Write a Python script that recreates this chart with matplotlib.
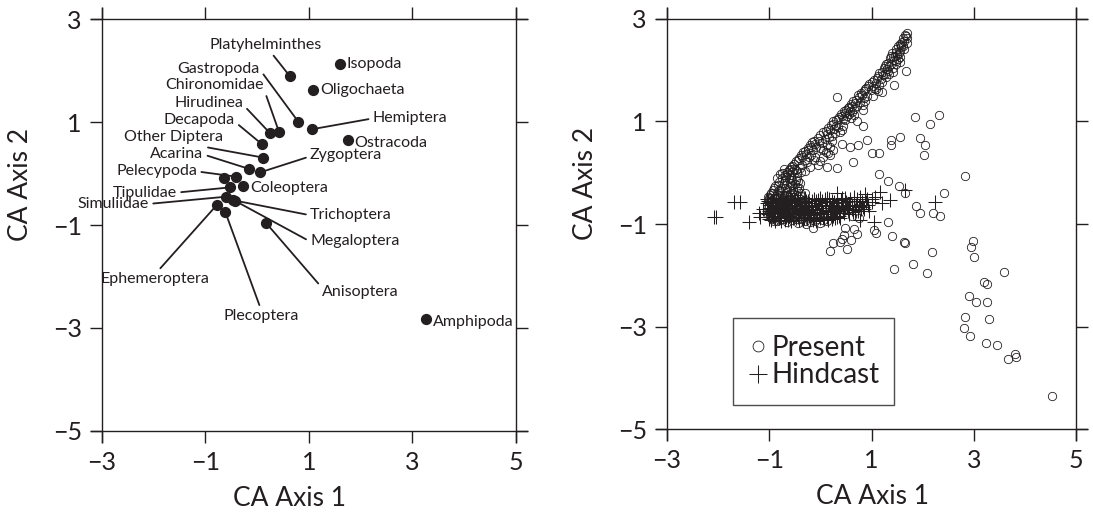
import numpy as np
import matplotlib
matplotlib.use('Agg')
import matplotlib.pyplot as plt

plt.rcParams['font.family'] = ['Lato', 'DejaVu Sans']
INK = '#231f20'

# ---- left panel: species scores (CA axis 1, CA axis 2) ----
taxa = ['Platyhelminthes', 'Isopoda', 'Oligochaeta', 'Gastropoda', 'Chironomidae',
        'Hirudinea', 'Decapoda', 'Other Diptera', 'Acarina', 'Zygoptera',
        'Pelecypoda', '', 'Coleoptera', 'Tipulidae', 'Simuliidae', 'Trichoptera',
        'Megaloptera', 'Ephemeroptera', 'Plecoptera', 'Anisoptera', 'Amphipoda',
        'Hemiptera', 'Ostracoda']
taxa_x = [0.63, 1.59, 1.08, 0.79, 0.42, 0.25, 0.09, 0.11, -0.16, 0.05,
          -0.41, -0.64, -0.27, -0.53, -0.60, -0.46, -0.43, -0.78, -0.62, 0.17, 3.26,
          1.06, 1.75]
taxa_y = [1.89, 2.13, 1.62, 1.01, 0.81, 0.78, 0.57, 0.31, 0.09, 0.02,
          -0.06, -0.09, -0.24, -0.27, -0.45, -0.52, -0.53, -0.61, -0.74, -0.96, -2.83,
          0.86, 0.65]
# label anchor (data units), alignment and where the leader leaves the text
lab_x = [0.17, 1.72, 1.21, 0.05, 0.12, -0.27, -0.43, -0.66, -1.04, 1.02,
         -1.16, 0, -0.13, -1.55, -2.09, 1.02, 1.02, -1.98, 0.07, 1.25, 3.40,
         2.23, 1.88]
lab_y = [2.50, 2.13, 1.62, 2.02, 1.72, 1.36, 1.03, 0.70, 0.37, 0.36,
         0.04, 0, -0.28, -0.37, -0.59, -0.81, -1.32, -2.05, -2.77, -2.30, -2.88,
         1.07, 0.59]
lab_ha = ['center', 'left', 'left', 'right', 'right', 'right', 'right', 'right',
          'right', 'left', 'right', '', 'left', 'right', 'right', 'left', 'left',
          'center', 'center', 'left', 'left', 'left', 'left']
lab_rel = [(0.54, 0), None, None, (1, 0.5), (1, 0.3), (1, 0.4), (1, 0.4), (0.68, 0),
           (1, 0.5), (0, 0.4), (1, 0.5), None, None, (1, 0.5), (1, 0.5), (0, 0.5),
           (0, 0.5), (0.52, 1), (0.5, 1), (0, 0.8), None, (0, 0.5), None]

# ---- right panel: site scores ----
present = [
    (1.69, 2.72), (1.69, 2.62), (1.69, 2.54), (1.55, 2.38), (1.55, 2.17), (1.68, 1.99),
    (1.43, 1.71), (1.20, 1.58), (1.02, 1.50), (0.32, 1.48), (0.83, 1.22), (1.84, 1.09),
    (2.31, 1.13), (2.15, 0.96), (0.71, 1.00), (0.84, 0.91), (1.56, 0.70), (1.38, 0.64),
    (1.38, 0.55), (1.94, 0.67), (2.05, 0.55), (2.03, 0.35), (0.91, 0.64), (0.74, 0.54),
    (0.42, 0.57), (0.58, 0.51), (0.19, 0.35), (1.01, 0.38), (1.14, 0.39), (0.63, 0.20),
    (0.12, 0.12), (0.32, 0.09), (1.14, -0.03), (1.33, -0.17), (1.53, -0.26), (1.66, -0.40),
    (2.41, -0.40), (1.87, -0.65), (1.94, -0.78), (2.20, -0.78), (2.33, -0.84), (1.33, -0.97),
    (1.04, -1.12), (1.09, -1.17), (1.40, -1.23), (1.63, -1.35), (1.66, -1.38), (-0.14, -1.08),
    (0.48, -1.08), (0.65, -1.10), (0.46, -1.21), (0.59, -1.31), (0.51, -1.49), (0.18, -1.52),
    (0.39, -1.35), (0.24, -1.38), (0.42, -1.29), (0.72, -1.20), (0.62, -0.84), (0.75, -0.89),
    (2.18, -1.54), (1.81, -1.78), (1.44, -1.88), (2.08, -1.95), (2.83, -0.06), (2.98, -1.33),
    (2.95, -1.44), (3.00, -1.64), (3.60, -1.93), (3.20, -2.13), (3.26, -2.18), (2.90, -2.40),
    (3.04, -2.53), (3.26, -2.53), (2.83, -2.81), (3.29, -2.86), (2.80, -3.02), (2.92, -3.18),
    (3.24, -3.33), (3.45, -3.36), (3.67, -3.63), (3.81, -3.54), (3.82, -3.60), (4.53, -4.35),
    # diagonal band
    (1.62, 2.62), (1.66, 2.68), (1.60, 2.55), (1.52, 2.48), (1.58, 2.45), (1.47, 2.41),
    (1.55, 2.52), (1.63, 2.42), (1.40, 2.33), (1.45, 2.28), (1.50, 2.30), (1.36, 2.24),
    (1.44, 2.20), (1.52, 2.22), (1.28, 2.12), (1.35, 2.08), (1.30, 2.02), (1.41, 2.05),
    (1.24, 2.05), (1.47, 2.12), (1.15, 1.94), (1.22, 1.90), (1.10, 1.85), (1.18, 1.82),
    (1.28, 1.86), (1.35, 1.92), (1.05, 1.80), (0.95, 1.74), (1.02, 1.70), (0.90, 1.66),
    (1.08, 1.64), (0.98, 1.62), (1.15, 1.72), (0.86, 1.60), (0.80, 1.55), (0.76, 1.48),
    (0.85, 1.45), (0.70, 1.42), (0.92, 1.50), (0.64, 1.40), (0.60, 1.34), (0.55, 1.28),
    (0.66, 1.25), (0.50, 1.22), (0.72, 1.30), (0.46, 1.20), (0.58, 1.21), (0.40, 1.14),
    (0.36, 1.08), (0.45, 1.05), (0.30, 1.02), (0.52, 1.10), (0.25, 1.00), (0.60, 1.06),
    (0.20, 0.94), (0.15, 0.88), (0.26, 0.86), (0.10, 0.82), (0.34, 0.90), (0.05, 0.80),
    (0.42, 0.84), (0.00, 0.74), (-0.05, 0.68), (0.08, 0.66), (-0.12, 0.62), (0.16, 0.70),
    (0.22, 0.62), (-0.16, 0.60), (-0.20, 0.54), (-0.25, 0.48), (-0.15, 0.45), (-0.30, 0.42),
    (-0.08, 0.50), (0.05, 0.44), (-0.34, 0.40), (-0.38, 0.34), (-0.42, 0.28), (-0.30, 0.25),
    (-0.48, 0.22), (-0.22, 0.30), (-0.12, 0.24), (-0.55, 0.14), (-0.60, 0.08), (-0.48, 0.05),
    (-0.66, 0.02), (-0.40, 0.10), (-0.30, 0.04), (0.05, 0.30), (0.15, 0.38), (-0.05, 0.15),
    (0.25, 0.45),
    (1.64, 2.58), (1.57, 2.50), (1.68, 2.66), (1.61, 2.47), (1.48, 2.36), (1.42, 2.25),
    (1.54, 2.33), (1.38, 2.28), (1.47, 2.18), (1.56, 2.26), (1.32, 2.15), (1.26, 2.08),
    (1.38, 2.12), (1.33, 1.98), (1.20, 1.97), (1.42, 1.96), (1.27, 1.93), (1.12, 1.88),
    (1.00, 1.78), (1.08, 1.76), (1.20, 1.78), (0.93, 1.70), (1.05, 1.66), (1.12, 1.60),
    (0.88, 1.63), (0.82, 1.52), (0.74, 1.51), (0.88, 1.40), (0.68, 1.36), (0.78, 1.38),
    (0.62, 1.30), (0.84, 1.33), (0.53, 1.26), (0.48, 1.16), (0.62, 1.18), (0.42, 1.10),
    (0.56, 1.14), (0.34, 1.04), (0.48, 1.02), (0.66, 1.12), (0.24, 0.96), (0.30, 0.92),
    (0.18, 0.84), (0.38, 0.80), (0.12, 0.76), (0.28, 0.78), (0.22, 0.72), (0.44, 0.92),
    (-0.02, 0.62), (0.04, 0.58), (-0.10, 0.56), (0.12, 0.54), (-0.18, 0.50), (0.00, 0.48),
    (0.18, 0.50), (-0.24, 0.44), (0.10, 0.40), (-0.28, 0.36), (-0.36, 0.30), (-0.18, 0.34),
    (-0.44, 0.24), (-0.26, 0.20), (-0.10, 0.30), (-0.52, 0.18), (-0.36, 0.16), (-0.20, 0.12),
    (-0.58, 0.12), (0.00, 0.22),
    # dense blob
    (-0.70, -0.05), (-0.76, -0.10), (-0.62, -0.12), (-0.82, -0.18), (-0.55, -0.15),
    (-0.45, -0.08), (-0.88, -0.26), (-0.72, -0.24), (-0.60, -0.28), (-0.50, -0.22),
    (-0.40, -0.20), (-0.92, -0.34), (-0.80, -0.36), (-0.68, -0.38), (-0.56, -0.40),
    (-0.44, -0.36), (-0.98, -0.44), (-0.86, -0.46), (-0.74, -0.50), (-0.62, -0.48),
    (-0.50, -0.52), (-0.38, -0.46), (-1.02, -0.56), (-0.90, -0.58), (-0.78, -0.62),
    (-0.66, -0.60), (-0.54, -0.64), (-0.42, -0.58), (-0.32, -0.62), (-1.04, -0.68),
    (-0.94, -0.72), (-0.82, -0.70), (-0.70, -0.76), (-0.58, -0.74), (-0.46, -0.78),
    (-0.34, -0.72), (-0.98, -0.82), (-0.86, -0.86), (-0.74, -0.84), (-0.62, -0.88),
    (-0.50, -0.86), (-0.38, -0.90), (-0.90, -0.94), (-0.66, -0.96), (-0.44, -0.98),
    (-0.20, -0.88), (-0.10, -0.95), (0.05, -0.92), (-0.28, -1.00),
    (-0.75, 0.00), (-0.65, -0.02), (-0.55, 0.02), (-0.85, -0.10), (-0.70, -0.15),
    (-0.58, -0.05), (-0.48, -0.14), (-0.90, -0.30), (-0.78, -0.30), (-0.66, -0.32),
    (-0.54, -0.32), (-0.46, -0.28), (-0.96, -0.40), (-0.84, -0.42), (-0.72, -0.44),
    (-0.60, -0.42), (-0.48, -0.44), (-0.40, -0.40), (-1.00, -0.50), (-0.88, -0.52),
    (-0.76, -0.56), (-0.64, -0.54), (-0.52, -0.58), (-0.40, -0.52), (-1.04, -0.62),
    (-0.92, -0.65), (-0.80, -0.66), (-0.68, -0.68), (-0.56, -0.70), (-0.44, -0.68),
    (-1.00, -0.76), (-0.88, -0.78), (-0.76, -0.80), (-0.64, -0.80), (-0.52, -0.82),
    (-0.40, -0.84), (-0.94, -0.88), (-0.80, -0.92), (-0.56, -0.92), (-0.30, -0.94),
    (-0.20, -0.96), (0.00, -0.98), (0.12, -0.94),
    (-1.03, -0.48), (-0.99, -0.58), (-1.01, -0.66), (-0.97, -0.74), (-1.02, -0.80),
    (-0.95, -0.90), (-0.93, -0.40), (-0.91, -0.50), (-0.89, -0.62), (-0.87, -0.72),
    (-0.85, -0.82), (-0.84, -0.94), (-0.83, -0.24), (-0.81, -0.34), (-0.79, -0.44),
    (-0.77, -0.54), (-0.75, -0.66), (-0.73, -0.90), (-0.71, -0.20), (-0.69, -0.30),
    (-0.67, -0.44), (-0.65, -0.56), (-0.63, -0.66), (-0.61, -0.76), (-0.59, -0.84),
    (-0.57, -0.10), (-0.55, -0.24), (-0.53, -0.36), (-0.51, -0.48), (-0.49, -0.62),
    (-0.47, -0.72), (-0.45, -0.90), (-0.43, -0.16), (-0.41, -0.30), (-0.39, -0.62),
    (-0.37, -0.76), (-0.35, -0.55), (-0.33, -0.84), (-0.31, -0.40), (-0.62, 0.05),
    (-0.52, 0.08), (-0.45, 0.00), (-0.38, 0.02), (-0.68, -0.08), (-0.60, -0.20),
    (-0.80, -0.02), (-0.72, 0.08), (-0.26, -0.80), (-0.16, -0.84), (-0.06, -0.90),
]
hindcast = [
    (-1.02, -0.55), (-0.98, -0.62), (-1.05, -0.70), (-0.95, -0.78), (-1.00, -0.86),
    (-0.92, -0.50), (-0.88, -0.66), (-0.85, -0.74), (-0.82, -0.88), (-0.78, -0.56),
    (-0.75, -0.64), (-0.72, -0.80), (-0.70, -0.92), (-0.68, -0.52), (-0.65, -0.70),
    (-0.62, -0.84), (-0.60, -0.60), (-0.58, -0.94), (-0.55, -0.76), (-0.52, -0.54),
    (-0.50, -0.68), (-0.48, -0.88), (-0.45, -0.62), (-0.42, -0.80), (-0.40, -0.50),
    (-0.38, -0.72), (-0.35, -0.92), (-0.32, -0.58), (-0.30, -0.82), (-0.28, -0.66),
    (-0.25, -0.55), (-0.22, -0.74), (-0.20, -0.90), (-0.18, -0.62), (-0.15, -0.80),
    (-0.12, -0.52), (-0.10, -0.70), (-0.08, -0.94), (-0.05, -0.60), (-0.02, -0.78),
    (0.00, -0.50), (0.03, -0.68), (0.05, -0.86), (0.08, -0.58), (0.10, -0.74),
    (0.13, -0.50), (0.15, -0.92), (0.18, -0.64), (0.20, -0.80), (0.23, -0.56),
    (0.26, -0.70), (0.28, -0.88), (0.32, -0.52), (0.35, -0.66), (0.38, -0.78),
    (0.42, -0.58), (0.45, -0.72), (0.48, -0.50), (0.52, -0.64), (0.55, -0.80),
    (0.58, -0.56), (0.62, -0.70), (0.65, -0.48), (0.70, -0.62), (0.74, -0.74),
    (0.78, -0.55), (0.84, -0.66), (0.90, -0.58),
    (-1.04, -0.60), (-1.00, -0.74), (-0.97, -0.92), (-0.93, -0.56), (-0.90, -0.84),
    (-0.87, -0.60), (-0.83, -0.52), (-0.80, -0.78), (-0.77, -0.94), (-0.73, -0.70),
    (-0.70, -0.58), (-0.67, -0.86), (-0.63, -0.62), (-0.60, -0.78), (-0.57, -0.52),
    (-0.54, -0.88), (-0.51, -0.62), (-0.47, -0.76), (-0.44, -0.52), (-0.41, -0.92),
    (-0.37, -0.62), (-0.34, -0.78), (-0.31, -0.50), (-0.27, -0.88), (-0.24, -0.64),
    (-0.21, -0.82), (-0.17, -0.56), (-0.14, -0.92), (-0.11, -0.62), (-0.07, -0.80),
    (-0.04, -0.54), (-0.01, -0.88), (0.02, -0.62), (0.06, -0.76), (0.09, -0.52),
    (0.12, -0.86), (0.16, -0.58), (0.19, -0.72), (0.22, -0.90), (0.25, -0.62),
    (0.29, -0.76), (0.33, -0.60), (0.36, -0.74), (0.40, -0.54), (0.44, -0.64),
    (0.47, -0.78), (0.50, -0.58), (0.54, -0.70), (0.57, -0.52), (0.61, -0.64),
    (0.66, -0.56), (0.68, -0.72), (0.72, -0.52), (0.76, -0.64), (0.82, -0.58),
    (0.86, -0.70), (0.94, -0.62), (1.00, -0.58),
    (-1.05, -0.52), (-1.03, -0.80), (-1.01, -0.90), (-0.99, -0.68), (-0.96, -0.58),
    (-0.94, -0.70), (-0.91, -0.76), (-0.89, -0.94), (-0.86, -0.54), (-0.84, -0.68),
    (-0.81, -0.62), (-0.79, -0.86), (-0.76, -0.72), (-0.74, -0.50), (-0.71, -0.64),
    (-0.69, -0.78), (-0.66, -0.56), (-0.64, -0.92), (-0.61, -0.70), (-0.59, -0.54),
    (-0.56, -0.64), (-0.53, -0.80), (-0.49, -0.56), (-0.46, -0.70), (-0.43, -0.86),
    (-0.39, -0.58), (-0.36, -0.68), (-0.33, -0.88), (-0.29, -0.56), (-0.26, -0.74),
    (-0.23, -0.60), (-0.19, -0.76), (-0.16, -0.66), (-0.13, -0.86), (-0.09, -0.56),
    (-0.06, -0.72), (-0.03, -0.64), (0.01, -0.80), (0.04, -0.56), (0.07, -0.90),
    (0.11, -0.64), (0.14, -0.76), (0.17, -0.52), (0.21, -0.68), (0.24, -0.84),
    (0.27, -0.58), (0.31, -0.70), (0.37, -0.84), (0.43, -0.50), (0.49, -0.68),
    (0.56, -0.62), (0.63, -0.76), (0.80, -0.70), (0.92, -0.52),
    (-1.70, -0.58), (-1.57, -0.58), (-2.09, -0.86), (-2.04, -0.86), (-1.39, -0.97),
    (-1.18, -0.86), (-1.21, -0.78), (-1.12, -0.70), (1.17, -0.37), (1.36, -0.53),
    (1.01, -0.52), (1.07, -0.47), (0.78, -0.47), (0.88, -0.41), (1.66, -0.34),
    (2.25, -0.58), (1.04, -0.96), (0.78, -0.92), (0.32, -0.86), (0.39, -0.89),
    (0.32, -0.40), (0.95, -0.75), (1.20, -0.60),
]

ticks_x = [-3, -1, 1, 3, 5]
ticks_y = [-5, -3, -1, 1, 3]

fig = plt.figure(figsize=(10.93, 5.14), dpi=100)
ax1 = fig.add_axes([0.0829, 0.1395, 0.3996, 0.8455])
ax2 = fig.add_axes([0.6000, 0.1434, 0.3948, 0.8416])


def frame(ax):
    ax.set_xlim(-3.22, 5.22)
    ax.set_ylim(-5.22, 3.22)
    ax.spines['left'].set_position(('data', -3))
    ax.spines['right'].set_position(('data', 5))
    ax.spines['bottom'].set_position(('data', -5))
    ax.spines['top'].set_position(('data', 3))
    for s in ax.spines.values():
        s.set_color(INK)
        s.set_linewidth(1.0)
    ax.set_xticks(ticks_x)
    ax.set_yticks(ticks_y)
    ax.tick_params(direction='out', length=8.5, width=1.0, color=INK,
                   top=True, right=True, labeltop=False, labelright=False,
                   labelsize=18, labelcolor=INK, pad=6)
    ax.set_xlabel('CA Axis 1', fontsize=19, color=INK)
    ax.set_ylabel('CA Axis 2', fontsize=19, color=INK)


frame(ax1)
frame(ax2)
ax1.xaxis.set_label_coords(0.456, -0.10)
ax1.yaxis.set_label_coords(-0.132, 0.594)
ax2.xaxis.set_label_coords(0.503, -0.10)
ax2.yaxis.set_label_coords(-0.134, 0.594)

# species plot
ax1.scatter(taxa_x, taxa_y, s=50, color=INK, zorder=3)
for i, name in enumerate(taxa):
    if not name:
        continue
    rel = lab_rel[i]
    if rel is None:
        ax1.text(lab_x[i], lab_y[i], name, ha=lab_ha[i], va='center',
                 fontsize=11.5, color=INK)
    else:
        ax1.annotate(name, xy=(taxa_x[i], taxa_y[i]), xytext=(lab_x[i], lab_y[i]),
                     ha=lab_ha[i], va='center', fontsize=11.5, color=INK,
                     arrowprops=dict(arrowstyle='-', color=INK, lw=1.3,
                                     relpos=rel, shrinkA=1, shrinkB=0))

# site plot
px, py = zip(*present)
hx, hy = zip(*hindcast)
ax2.plot(px, py, 'o', ls='none', ms=6, mfc='none', mec=INK, mew=0.6, label='Present')
ax2.plot(hx, hy, '+', ls='none', ms=10, mec=INK, mew=0.75, label='Hindcast')
leg = ax2.legend(loc='lower left', bbox_to_anchor=(0.179, 0.0816, 0.373, 0.2),
                 mode='expand', borderaxespad=0, fontsize=20, frameon=True,
                 fancybox=False, handlelength=0.6, handletextpad=0.2,
                 borderpad=0.6, labelspacing=0.05, markerscale=1.3)
leg.get_frame().set_edgecolor(INK)
leg.get_frame().set_linewidth(1.0)
for t in leg.get_texts():
    t.set_color(INK)

fig.savefig('out.png', dpi=100)
